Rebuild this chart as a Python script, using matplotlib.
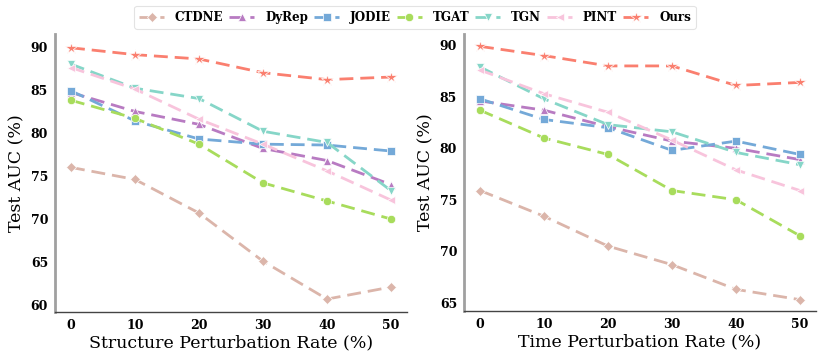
import matplotlib
matplotlib.use("Agg")
import matplotlib.pyplot as plt

rates = [0, 10, 20, 30, 40, 50]
methods = ["CTDNE", "DyRep", "JODIE", "TGAT", "TGN", "PINT", "Ours"]

# structure perturbation (left panel)
structure_auc = {
    "CTDNE": [76.0, 74.6, 70.7, 65.1, 60.7, 62.1],
    "DyRep": [84.7, 82.5, 81.0, 78.2, 76.8, 74.0],
    "JODIE": [84.9, 81.4, 79.3, 78.7, 78.6, 77.9],
    "TGAT": [83.8, 81.7, 78.7, 74.2, 72.1, 70.0],
    "TGN": [88.0, 85.2, 84.0, 80.2, 78.9, 73.3],
    "PINT": [87.6, 85.1, 81.6, 78.7, 75.6, 72.2],
    "Ours": [89.9, 89.1, 88.6, 87.0, 86.2, 86.5],
}

# time perturbation (right panel)
time_auc = {
    "CTDNE": [75.9, 73.4, 70.5, 68.7, 66.3, 65.3],
    "DyRep": [84.6, 83.7, 82.1, 80.7, 80.0, 78.9],
    "JODIE": [84.8, 82.8, 82.0, 79.8, 80.7, 79.4],
    "TGAT": [83.7, 81.0, 79.4, 75.9, 75.0, 71.5],
    "TGN": [87.9, 84.8, 82.3, 81.6, 79.6, 78.4],
    "PINT": [87.6, 85.3, 83.5, 80.8, 77.9, 75.9],
    "Ours": [89.9, 89.0, 88.0, 88.0, 86.1, 86.4],
}

colors = {
    "CTDNE": "#dbb5aa",
    "DyRep": "#b87bc2",
    "JODIE": "#74a9d8",
    "TGAT": "#a8dc5c",
    "TGN": "#86d6c8",
    "PINT": "#f8c4dc",
    "Ours": "#fa7f6f",
}
markers = {"CTDNE": "D", "DyRep": "^", "JODIE": "s", "TGAT": "o",
           "TGN": "v", "PINT": "<", "Ours": "*"}
msizes = {"CTDNE": 5, "DyRep": 6, "JODIE": 6, "TGAT": 6, "TGN": 6, "PINT": 6, "Ours": 9}

serif = ["DejaVu Serif"]


def draw(ax, data, xlabel, ylim, yticks):
    for m in methods:
        ax.plot(rates, data[m], linestyle=(0, (5, 2.5)), linewidth=2, color=colors[m],
                marker=markers[m], markersize=msizes[m], markeredgecolor="white",
                markeredgewidth=0.5, label=m)
    ax.set_xticks(rates)
    ax.set_yticks(yticks)
    ax.set_ylim(*ylim)
    ax.set_xlim(-2.5, 52.5)
    ax.set_xlabel(xlabel, fontsize=12.5, family=serif, labelpad=2)
    ax.set_ylabel("Test AUC (%)", fontsize=12.5, family=serif, labelpad=4)
    for lab in ax.get_xticklabels() + ax.get_yticklabels():
        lab.set_fontfamily(serif)
        lab.set_fontweight("bold")
        lab.set_fontsize(9)
    ax.spines["top"].set_visible(False)
    ax.spines["right"].set_visible(False)
    ax.spines["left"].set_color("#a0a0a0")
    ax.spines["left"].set_linewidth(2)
    ax.spines["bottom"].set_color("#444444")
    ax.spines["bottom"].set_linewidth(1)
    ax.tick_params(axis="both", length=0, pad=5)


fig = plt.figure(figsize=(8.3, 3.63), dpi=100)
ax1 = fig.add_axes([55 / 830, 51 / 363, 352 / 830, 278 / 363])
ax2 = fig.add_axes([464 / 830, 52 / 363, 352 / 830, 277 / 363])

draw(ax1, structure_auc, "Structure Perturbation Rate (%)", (59.2, 91.5), [60, 65, 70, 75, 80, 85, 90])
draw(ax2, time_auc, "Time Perturbation Rate (%)", (64.2, 91.1), [65, 70, 75, 80, 85, 90])

handles, labels = ax1.get_legend_handles_labels()
leg = fig.legend(handles, labels, loc="upper center", bbox_to_anchor=(0.5, 1.0), ncol=7,
                 frameon=True, fancybox=True, edgecolor="#dddddd", handlelength=2.1,
                 columnspacing=0.5, handletextpad=0.9, borderpad=0.4, markerscale=1.0,
                 prop={"family": serif, "weight": "bold", "size": 8.6})
leg.get_frame().set_linewidth(0.8)

fig.savefig("out.png", dpi=100)
